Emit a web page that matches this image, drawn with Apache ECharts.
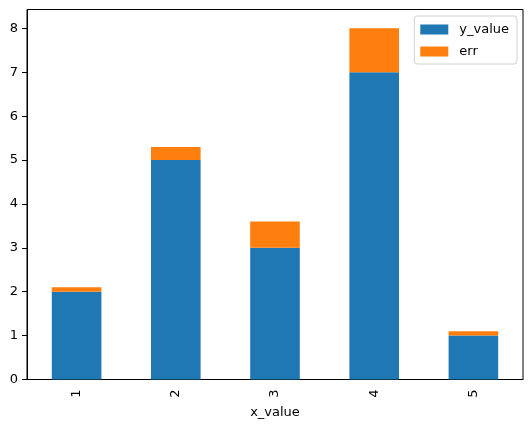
<!DOCTYPE html>
<html>
<head>
<meta charset="utf-8">
<script src="https://cdn.jsdelivr.net/npm/echarts@6/dist/echarts.min.js"></script>
<style>
  html, body { margin: 0; padding: 0; background: #fff; }
  #main { width: 531px; height: 427px; }
</style>
</head>
<body>
<div id="main"></div>
<script>
var xValues = ["1", "2", "3", "4", "5"];
var yValue = [2, 5, 3, 7, 1];
var err = [0.1, 0.3, 0.6, 1.0, 0.1];
var yTicks = [0, 1, 2, 3, 4, 5, 6, 7, 8];

var blue = "#1f77b4";
var orange = "#ff7f0e";
var font = "DejaVu Sans";

var myChart = echarts.init(document.getElementById("main"));
myChart.setOption({
  animation: false,
  textStyle: { fontFamily: font },
  grid: {
    left: 27,
    right: 8,
    top: 9.5,
    bottom: 47.5,
    show: true,
    borderColor: "#000",
    borderWidth: 1
  },
  legend: {
    orient: "vertical",
    right: 14,
    top: 16,
    data: ["y_value", "err"],
    itemWidth: 28,
    itemHeight: 10,
    itemGap: 7,
    padding: [6, 8, 5, 6],
    backgroundColor: "#fff",
    borderColor: "#d0d0d0",
    borderWidth: 1,
    borderRadius: 3,
    textStyle: {
      fontFamily: font,
      fontSize: 13,
      color: "#000",
      lineHeight: 15,
      padding: [0, 0, 0, 6]
    },
    icon: "rect"
  },
  xAxis: {
    type: "category",
    data: xValues,
    name: "x_value",
    nameLocation: "middle",
    nameGap: 24,
    nameTextStyle: { fontFamily: font, fontSize: 13, color: "#000" },
    axisLine: { lineStyle: { color: "#000", width: 1 } },
    axisTick: { alignWithLabel: true, length: 5, lineStyle: { color: "#000" } },
    axisLabel: { rotate: 90, margin: 10, fontFamily: font, fontSize: 13, color: "#000" },
    splitLine: { show: false }
  },
  yAxis: {
    type: "value",
    min: 0,
    max: 8.43,
    interval: 1,
    axisLine: { show: true, lineStyle: { color: "#000", width: 1 } },
    axisTick: { show: true, length: 5, customValues: yTicks, lineStyle: { color: "#000" } },
    axisLabel: { margin: 9, customValues: yTicks, fontFamily: font, fontSize: 13, color: "#000" },
    splitLine: { show: false }
  },
  series: [
    {
      name: "y_value",
      type: "bar",
      stack: "total",
      barWidth: "50%",
      itemStyle: { color: blue },
      data: yValue
    },
    {
      name: "err",
      type: "bar",
      stack: "total",
      barWidth: "50%",
      itemStyle: { color: orange },
      data: err
    }
  ]
});
</script>
</body>
</html>
